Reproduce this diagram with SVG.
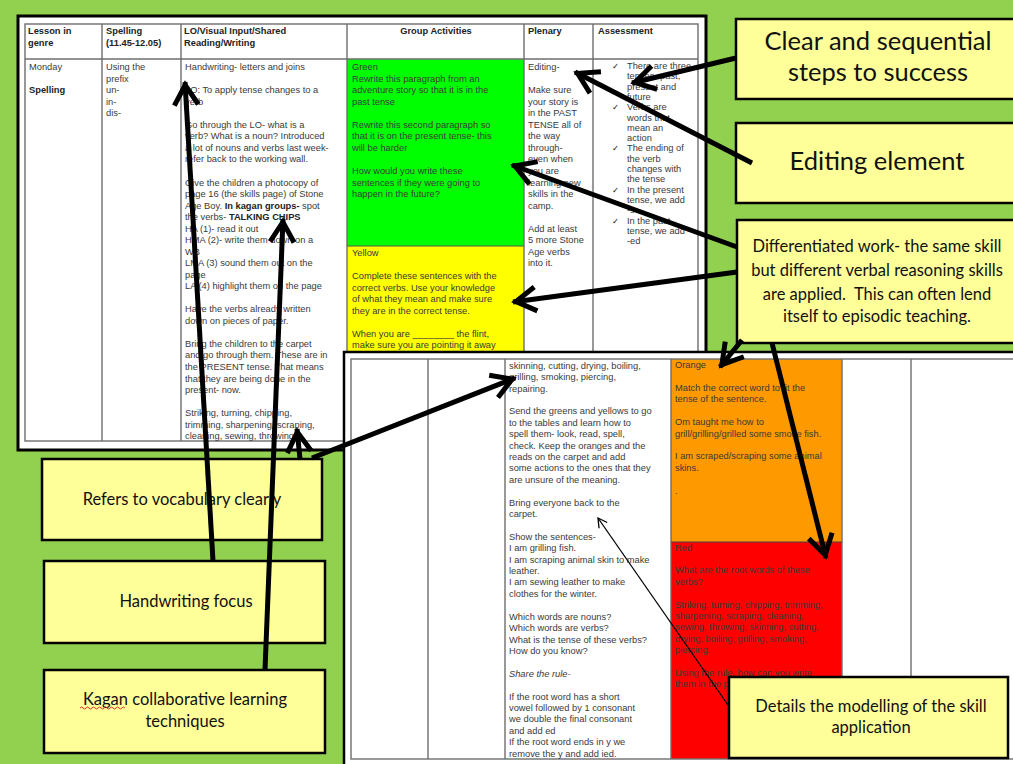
<svg xmlns="http://www.w3.org/2000/svg" width="1013" height="764" viewBox="0 0 1013 764">
  <defs>
    <style>
      .t { font-family: "Liberation Sans", Arial, sans-serif; font-size: 9.3px; fill: #3a3a3a; }
      .b { font-weight: bold; fill: #222; }
      .doc { fill: #fff; stroke: #000; }
      .grid { fill: none; stroke: #6e6e6e; stroke-width: 1.4; }
      .box { fill: #FFFF99; stroke: #000; stroke-width: 2.5; }
      .c { font-family: Lato, "Liberation Sans", sans-serif; fill: #111; text-anchor: middle; }
      .big { font-size: 25.5px; }
      .mid { font-size: 16.5px; }
      .arrow { fill: none; stroke: #000; stroke-width: 5; marker-end: url(#ah); }
      .thin { fill: none; stroke: #000; stroke-width: 1.3; marker-end: url(#ahs); }
    </style>
    <marker id="ah" viewBox="-30 -15 34 30" refX="0" refY="0" markerWidth="34" markerHeight="30" markerUnits="userSpaceOnUse" orient="auto">
      <path d="M-23,-12 L-3,0 L-23,12" fill="none" stroke="#000" stroke-width="5" stroke-linejoin="miter"/>
    </marker>
    <marker id="ahs" viewBox="-12 -7 14 14" refX="0" refY="0" markerWidth="14" markerHeight="14" markerUnits="userSpaceOnUse" orient="auto">
      <path d="M-9,-5 L0,0 L-9,5" fill="none" stroke="#000" stroke-width="1.3"/>
    </marker>
  </defs>

  <!-- page background -->
  <rect x="0" y="0" width="1013" height="764" fill="#92D050"/>

  <!-- upper lesson-plan sheet -->
  <g id="plan-top">
    <rect class="doc" x="18" y="16" width="688" height="434" stroke-width="3"/>
    <rect x="347" y="59" width="177" height="187" fill="#00FF00"/>
    <rect x="347" y="246" width="177" height="195" fill="#FFFF00"/>
    <rect class="grid" x="25" y="24" width="673" height="417"/>
    <line class="grid" x1="25" y1="59" x2="698" y2="59"/>
    <line class="grid" x1="102" y1="24" x2="102" y2="441"/>
    <line class="grid" x1="181" y1="24" x2="181" y2="441"/>
    <line class="grid" x1="347" y1="24" x2="347" y2="441"/>
    <line class="grid" x1="524" y1="24" x2="524" y2="441"/>
    <line class="grid" x1="593" y1="24" x2="593" y2="441"/>
    <line x1="347" y1="246" x2="524" y2="246" stroke="#555" stroke-width="1"/>

    <text class="t b" x="28" y="34">Lesson in<tspan x="28" dy="11.6">genre</tspan></text>
    <text class="t b" x="106" y="34">Spelling<tspan x="106" dy="11.6">(11.45-12.05)</tspan></text>
    <text class="t b" x="184" y="34">LO/Visual Input/Shared<tspan x="184" dy="11.6">Reading/Writing</tspan></text>
    <text class="t b" x="436" y="34" text-anchor="middle">Group Activities</text>
    <text class="t b" x="528" y="34">Plenary</text>
    <text class="t b" x="598" y="34">Assessment</text>

    <text class="t" x="29" y="70.2">Monday<tspan class="b" x="29" dy="23.06">Spelling</tspan></text>
    <text class="t" x="106" y="70.2">Using the<tspan x="106" dy="11.53">prefix</tspan><tspan x="106" dy="11.53">un-</tspan><tspan x="106" dy="11.53">in-</tspan><tspan x="106" dy="11.53">dis-</tspan></text>

    <text class="t" x="185" y="70.2">Handwriting- letters and joins<tspan x="185" dy="23.06">LO: To apply tense changes to a</tspan><tspan x="185" dy="11.53">verb</tspan><tspan x="185" dy="23.06">Go through the LO- what is a</tspan><tspan x="185" dy="11.53">verb? What is a noun? Introduced</tspan><tspan x="185" dy="11.53">a lot of nouns and verbs last week-</tspan><tspan x="185" dy="11.53">refer back to the working wall.</tspan><tspan x="185" dy="23.06">Give the children a photocopy of</tspan><tspan x="185" dy="11.53">page 16 (the skills page) of Stone</tspan><tspan x="185" dy="11.53">Age Boy. <tspan class="b">In kagan groups-</tspan> spot</tspan><tspan x="185" dy="11.53">the verbs- <tspan class="b">TALKING CHIPS</tspan></tspan><tspan x="185" dy="11.53">HA (1)- read it out</tspan><tspan x="185" dy="11.53">HMA (2)- write them down on a</tspan><tspan x="185" dy="11.53">WB</tspan><tspan x="185" dy="11.53">LMA (3) sound them out on the</tspan><tspan x="185" dy="11.53">page</tspan><tspan x="185" dy="11.53">LA (4) highlight them on the page</tspan><tspan x="185" dy="23.06">Have the verbs already written</tspan><tspan x="185" dy="11.53">down on pieces of paper.</tspan><tspan x="185" dy="23.06">Bring the children to the carpet</tspan><tspan x="185" dy="11.53">and go through them. These are in</tspan><tspan x="185" dy="11.53">the PRESENT tense. That means</tspan><tspan x="185" dy="11.53">that they are being done in the</tspan><tspan x="185" dy="11.53">present- now.</tspan><tspan x="185" dy="23.06">Striking, turning, chipping,</tspan><tspan x="185" dy="11.53">trimming, sharpening, scraping,</tspan><tspan x="185" dy="11.53">cleaning, sewing, throwing,</tspan></text>

    <text class="t" x="352" y="70.2" fill="#2a2a2a">Green<tspan x="352" dy="11.53">Rewrite this paragraph from an</tspan><tspan x="352" dy="11.53">adventure story so that it is in the</tspan><tspan x="352" dy="11.53">past tense</tspan><tspan x="352" dy="23.06">Rewrite this second paragraph so</tspan><tspan x="352" dy="11.53">that it is on the present tense- this</tspan><tspan x="352" dy="11.53">will be harder</tspan><tspan x="352" dy="23.06">How would you write these</tspan><tspan x="352" dy="11.53">sentences if they were going to</tspan><tspan x="352" dy="11.53">happen in the future?</tspan></text>

    <text class="t" x="352" y="256.2">Yellow<tspan x="352" dy="23.06">Complete these sentences with the</tspan><tspan x="352" dy="11.53">correct verbs. Use your knowledge</tspan><tspan x="352" dy="11.53">of what they mean and make sure</tspan><tspan x="352" dy="11.53">they are in the correct tense.</tspan><tspan x="352" dy="23.06">When you are ________ the flint,</tspan><tspan x="352" dy="11.53">make sure you are pointing it away</tspan></text>

    <text class="t" x="528" y="70.2">Editing-<tspan x="528" dy="23.06">Make sure</tspan><tspan x="528" dy="11.53">your story is</tspan><tspan x="528" dy="11.53">in the PAST</tspan><tspan x="528" dy="11.53">TENSE all of</tspan><tspan x="528" dy="11.53">the way</tspan><tspan x="528" dy="11.53">through-</tspan><tspan x="528" dy="11.53">even when</tspan><tspan x="528" dy="11.53">you are</tspan><tspan x="528" dy="11.53">learning new</tspan><tspan x="528" dy="11.53">skills in the</tspan><tspan x="528" dy="11.53">camp.</tspan><tspan x="528" dy="23.06">Add at least</tspan><tspan x="528" dy="11.53">5 more Stone</tspan><tspan x="528" dy="11.53">Age verbs</tspan><tspan x="528" dy="11.53">into it.</tspan></text>

    <!-- tick bullets of the assessment list -->
    <g font-family="DejaVu Sans" font-size="8.5" fill="#222">
      <text x="612" y="69">&#x2713;</text>
      <text x="612" y="110.2">&#x2713;</text>
      <text x="612" y="151.4">&#x2713;</text>
      <text x="612" y="192.6">&#x2713;</text>
      <text x="612" y="223.5">&#x2713;</text>
    </g>
    <text class="t" x="627" y="69" font-size="8.8">There are three<tspan x="627" dy="10.3">tenses- past,</tspan><tspan x="627" dy="10.3">present and</tspan><tspan x="627" dy="10.3">future</tspan><tspan x="627" dy="10.3">Verbs are</tspan><tspan x="627" dy="10.3">words that</tspan><tspan x="627" dy="10.3">mean an</tspan><tspan x="627" dy="10.3">action</tspan><tspan x="627" dy="10.3">The ending of</tspan><tspan x="627" dy="10.3">the verb</tspan><tspan x="627" dy="10.3">changes with</tspan><tspan x="627" dy="10.3">the tense</tspan><tspan x="627" dy="10.3">In the present</tspan><tspan x="627" dy="10.3">tense, we add</tspan><tspan x="627" dy="10.3">-s</tspan><tspan x="627" dy="10.3">In the past</tspan><tspan x="627" dy="10.3">tense, we add</tspan><tspan x="627" dy="10.3">-ed</tspan></text>
  </g>

  <!-- lower lesson-plan sheet (continuation page) -->
  <g id="plan-bottom">
    <rect class="doc" x="344" y="352" width="690" height="430" stroke-width="2.5"/>
    <rect x="671" y="359" width="171" height="183" fill="#FF9900"/>
    <rect x="671" y="542" width="171" height="217" fill="#FF0000"/>
    <rect class="grid" x="351" y="359" width="680" height="400"/>
    <line class="grid" x1="428" y1="359" x2="428" y2="759"/>
    <line class="grid" x1="505" y1="359" x2="505" y2="759"/>
    <line class="grid" x1="671" y1="359" x2="671" y2="759"/>
    <line class="grid" x1="842" y1="359" x2="842" y2="759"/>
    <line class="grid" x1="911" y1="359" x2="911" y2="759"/>
    <line x1="671" y1="542" x2="842" y2="542" stroke="#444" stroke-width="1"/>

    <text class="t" x="509" y="368.7">skinning, cutting, drying, boiling,<tspan x="509" dy="11.41">grilling, smoking, piercing,</tspan><tspan x="509" dy="11.41">repairing.</tspan><tspan x="509" dy="22.82">Send the greens and yellows to go</tspan><tspan x="509" dy="11.41">to the tables and learn how to</tspan><tspan x="509" dy="11.41">spell them- look, read, spell,</tspan><tspan x="509" dy="11.41">check. Keep the oranges and the</tspan><tspan x="509" dy="11.41">reads on the carpet and add</tspan><tspan x="509" dy="11.41">some actions to the ones that they</tspan><tspan x="509" dy="11.41">are unsure of the meaning.</tspan><tspan x="509" dy="22.82">Bring everyone back to the</tspan><tspan x="509" dy="11.41">carpet.</tspan><tspan x="509" dy="22.82">Show the sentences-</tspan><tspan x="509" dy="11.41">I am grilling fish.</tspan><tspan x="509" dy="11.41">I am scraping animal skin to make</tspan><tspan x="509" dy="11.41">leather.</tspan><tspan x="509" dy="11.41">I am sewing leather to make</tspan><tspan x="509" dy="11.41">clothes for the winter.</tspan><tspan x="509" dy="22.82">Which words are nouns?</tspan><tspan x="509" dy="11.41">Which words are verbs?</tspan><tspan x="509" dy="11.41">What is the tense of these verbs?</tspan><tspan x="509" dy="11.41">How do you know?</tspan><tspan x="509" dy="22.82" font-style="italic">Share the rule-</tspan><tspan x="509" dy="22.82">If the root word has a short</tspan><tspan x="509" dy="11.41">vowel followed by 1 consonant</tspan><tspan x="509" dy="11.41">we double the final consonant</tspan><tspan x="509" dy="11.41">and add ed</tspan><tspan x="509" dy="11.41">If the root word ends in y we</tspan><tspan x="509" dy="11.41">remove the y and add ied.</tspan></text>

    <text class="t" x="675" y="368.2">Orange<tspan x="675" dy="22.8">Match the correct word to fit the</tspan><tspan x="675" dy="11.4">tense of the sentence.</tspan><tspan x="675" dy="22.8">Om taught me how to</tspan><tspan x="675" dy="11.4">grill/grilling/grilled some smoke fish.</tspan><tspan x="675" dy="22.8">I am scraped/scraping some animal</tspan><tspan x="675" dy="11.4">skins.</tspan><tspan x="675" dy="22.8">.</tspan></text>

    <text class="t" x="675" y="550.5" fill="#2a2a2a">Red<tspan x="675" dy="22.8">What are the root words of these</tspan><tspan x="675" dy="11.4">verbs?</tspan><tspan x="675" dy="22.8">Striking, turning, chipping, trimming,</tspan><tspan x="675" dy="11.4">sharpening, scraping, cleaning,</tspan><tspan x="675" dy="11.4">sewing, throwing, skinning, cutting,</tspan><tspan x="675" dy="11.4">drying, boiling, grilling, smoking,</tspan><tspan x="675" dy="11.4">piercing.</tspan><tspan x="675" dy="22.8">Using the rule, how can you write</tspan><tspan x="675" dy="11.4">them in the past tense?</tspan></text>
  </g>

  <!-- annotation callouts -->
  <g id="note-steps">
    <rect class="box" x="736" y="19" width="290" height="80"/>
    <text class="c big" x="878" y="50">Clear and sequential</text>
    <text class="c big" x="878" y="81">steps to success</text>
  </g>
  <g id="note-editing">
    <rect class="box" x="736" y="123" width="290" height="80"/>
    <text class="c big" x="877" y="170">Editing element</text>
  </g>
  <g id="note-differentiated">
    <rect class="box" x="737" y="220" width="290" height="123"/>
    <text class="c mid" x="877" y="252">Differentiated work- the same skill</text>
    <text class="c mid" x="877" y="276">but different verbal reasoning skills</text>
    <text class="c mid" x="877" y="300" xml:space="preserve">are applied.  This can often lend</text>
    <text class="c mid" x="877" y="322">itself to episodic teaching.</text>
  </g>
  <g id="note-vocabulary">
    <rect class="box" x="42" y="459" width="280" height="81"/>
    <text class="c mid" x="182" y="505" font-size="17.5px">Refers to vocabulary clearly</text>
  </g>
  <g id="note-handwriting">
    <rect class="box" x="44" y="561" width="281" height="82"/>
    <text class="c mid" x="186" y="607" font-size="17.5px">Handwriting focus</text>
  </g>
  <g id="note-kagan">
    <rect class="box" x="44" y="670" width="281" height="83"/>
    <text class="c mid" x="185" y="705" font-size="17.5px">Kagan collaborative learning</text>
    <text class="c mid" x="185" y="727" font-size="17.5px">techniques</text>
    <path d="M80,708 q1.5,-2 3,0 t3,0 t3,0 t3,0 t3,0 t3,0 t3,0 t3,0 t3,0 t3,0 t3,0 t3,0 t3,0 t3,0 t3,0" fill="none" stroke="#e0302a" stroke-width="1"/>
  </g>
  <g id="note-modelling">
    <rect class="box" x="729" y="677" width="279" height="81"/>
    <text class="c mid" x="871" y="712" font-size="17px">Details the modelling of the skill</text>
    <text class="c mid" x="871" y="733" font-size="17px">application</text>
  </g>

  <!-- connectors -->
  <g id="connectors">
    <line class="arrow" x1="736" y1="58" x2="632" y2="83"/>
    <line class="arrow" x1="752" y1="163" x2="575" y2="72"/>
    <line class="arrow" x1="737" y1="247" x2="512" y2="165"/>
    <line class="arrow" x1="737" y1="272" x2="513" y2="302"/>
    <line class="arrow" x1="742" y1="340" x2="720" y2="367"/>
    <line class="arrow" x1="772" y1="343" x2="826" y2="558"/>
    <line class="arrow" x1="300" y1="459" x2="297" y2="429"/>
    <line class="arrow" x1="312" y1="458" x2="515" y2="378"/>
    <line class="arrow" x1="213" y1="561" x2="185" y2="82"/>
    <line class="arrow" x1="265" y1="670" x2="283" y2="219"/>
    <line class="thin" x1="728" y1="705" x2="598" y2="518"/>
  </g>
</svg>
